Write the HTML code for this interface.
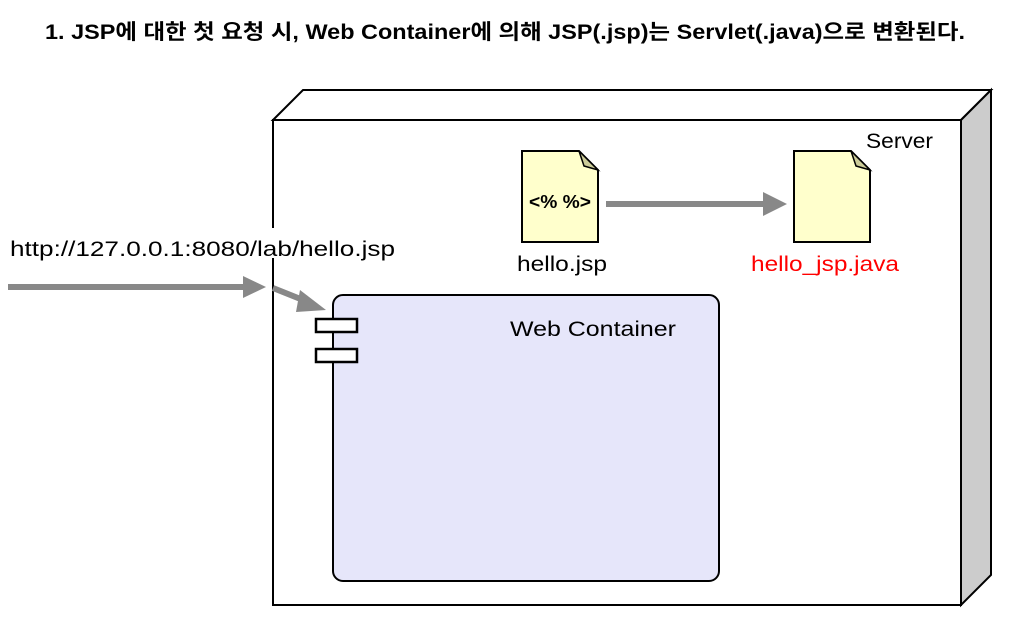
<!DOCTYPE html>
<html><head><meta charset="utf-8"><style>
body{margin:0;background:#fff;}
svg text{font-family:"Liberation Sans","Noto Sans CJK KR",sans-serif;}
</style></head><body>
<svg width="1020" height="616" viewBox="0 0 1020 616" xmlns="http://www.w3.org/2000/svg">
<text x="45" y="39" font-size="21" font-weight="bold" fill="#000" textLength="920" lengthAdjust="spacingAndGlyphs">1. JSP에 대한 첫 요청 시, Web Container에 의해 JSP(.jsp)는 Servlet(.java)으로 변환된다.</text>
<polygon points="273,120 303,90 991,90 961,120" fill="#fff" stroke="#000" stroke-width="2"/>
<polygon points="961,120 991,90 991,575 961,605" fill="#cccccc" stroke="#000" stroke-width="2"/>
<rect x="273" y="120" width="688" height="485" fill="#fff" stroke="#000" stroke-width="2"/>
<text x="866" y="148" font-size="21" fill="#000" textLength="67" lengthAdjust="spacingAndGlyphs">Server</text>
<rect x="333" y="295" width="386" height="286" rx="10" fill="#e6e6fa" stroke="#000" stroke-width="2"/>
<text x="510" y="336" font-size="21" fill="#000" textLength="166" lengthAdjust="spacingAndGlyphs">Web Container</text>
<rect x="316" y="319" width="41" height="13" fill="#fff" stroke="#000" stroke-width="2.5"/>
<rect x="316" y="349" width="41" height="13" fill="#fff" stroke="#000" stroke-width="2.5"/>
<polygon points="522,151 579,151 598,170 598,242 522,242" fill="#ffffcc" stroke="#000" stroke-width="2"/>
<polygon points="579,151 598,170 584,166" fill="#cccc99" stroke="#000" stroke-width="1.5"/>
<text x="560" y="208" font-size="18" font-weight="bold" fill="#000" text-anchor="middle" textLength="62" lengthAdjust="spacingAndGlyphs">&lt;% %&gt;</text>
<text x="517" y="271" font-size="21" fill="#000" textLength="90" lengthAdjust="spacingAndGlyphs">hello.jsp</text>
<polygon points="794,151 851,151 870,170 870,242 794,242" fill="#ffffcc" stroke="#000" stroke-width="2"/>
<polygon points="851,151 870,170 856,166" fill="#cccc99" stroke="#000" stroke-width="1.5"/>
<text x="751" y="271" font-size="21" fill="#ff0000" textLength="148" lengthAdjust="spacingAndGlyphs">hello_jsp.java</text>
<line x1="606" y1="204" x2="765" y2="204" stroke="#888" stroke-width="6"/>
<polygon points="763,192 787,204 763,216" fill="#888"/>
<rect x="262" y="228" width="140" height="30" fill="#fff"/>
<text x="10" y="256" font-size="21" fill="#000" textLength="385" lengthAdjust="spacingAndGlyphs">http://127.0.0.1:8080/lab/hello.jsp</text>
<line x1="8" y1="287" x2="245" y2="287" stroke="#888" stroke-width="6"/>
<polygon points="243,276 266,287 243,298" fill="#888"/>
<line x1="273" y1="288" x2="308" y2="302" stroke="#888" stroke-width="6"/>
<polygon points="300,290 326,310 296,312" fill="#888"/>
</svg>
</body></html>
